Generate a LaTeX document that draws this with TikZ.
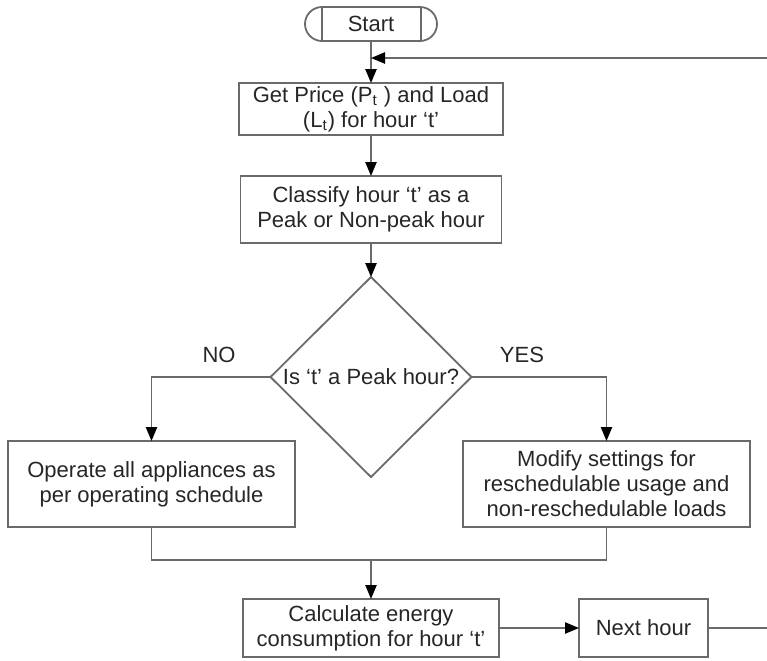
\documentclass[tikz,border=0pt]{standalone}
\usepackage{fontspec}
\setmainfont{Liberation Sans}
\usepackage{xcolor}
\usepackage{tikz}
\usetikzlibrary{positioning, shapes.geometric, shapes.misc, arrows.meta}
\definecolor{linegray}{HTML}{6A6A6A}
\definecolor{textdark}{HTML}{262626}
\tikzset{
    block/.style={
        draw = linegray, line width = 0.9pt,
        align = center, inner sep = 1pt, outer sep = 0pt,
        text = textdark,
        font = \fontsize{11}{12.5}\selectfont
    },
    terminal/.style={
        block, rounded rectangle,
        minimum width = 68pt, minimum height = 17pt
    },
    decision/.style={
        draw = linegray, line width = 0.9pt,
        diamond, aspect = 1, inner sep = 0pt, outer sep = 0pt,
        minimum width = 100.5pt, minimum height = 100pt,
        label = {[text = textdark, font = \fontsize{11}{12.5}\selectfont]center:#1}
    },
    branch/.style = {text = textdark, font = \fontsize{11}{12.5}\selectfont},
    line/.style = {draw = linegray, line width = 0.9pt,
        -{Triangle[length=7pt, width=5.6pt, color=black]}},
    link/.style = {draw = linegray, line width = 0.9pt}
}

\begin{document}
\begin{tikzpicture}[x=1pt, y=1pt]

    \useasboundingbox (0,0) rectangle (383.5,-330);
    \clip (0,0) rectangle (383.5,-330);

    % Start terminal
    \node[terminal] (start) at (185.5,-12) {Start};
    \draw[link] ([xshift=-24.5pt]start.north) -- ([xshift=-24.5pt]start.south)
                ([xshift=25pt]start.north) -- ([xshift=25pt]start.south);

    % Process column
    \node[block, minimum width = 132pt, minimum height = 26pt,
          below = 21pt of start] (price)
        {Get Price (P\textsubscript{t} ) and Load\\(L\textsubscript{t}) for hour ‘t’};
    \node[block, minimum width = 130.5pt, minimum height = 33.5pt,
          below = 20.5pt of price] (classify)
        {Classify hour ‘t’ as a\\Peak or Non-peak hour};

    % Decision
    \node[decision = {Is ‘t’ a Peak hour?}, below = 17pt of classify] (peak) {};
    \node[branch] (no) at (109.5,-177.5) {NO};
    \node[branch] (yes) at (261,-177.5) {YES};

    % Branch boxes
    \node[block, minimum width = 143.5pt, minimum height = 43pt]
        (operate) at (75.75,-242) {Operate all appliances as\\per operating schedule};
    \node[block, minimum width = 143.5pt, minimum height = 43pt]
        (modify) at (303.25,-242)
        {Modify settings for\\reschedulable usage and\\non-reschedulable loads};

    % Bottom row
    \node[block, minimum width = 128pt, minimum height = 29pt,
          below = 61pt of peak] (calc)
        {Calculate energy\\consumption for hour ‘t’};
    \node[block, minimum width = 64.5pt, minimum height = 29pt,
          right = 40pt of calc] (next) {Next hour};

    \coordinate[above = 19.5pt of calc.north] (join);
    \coordinate (loopup) at (392,-29);
    \coordinate (loopdown) at (next.east -| loopup);

    % Lines
    \draw[line] (start.south) -- (price.north);
    \draw[line] (price.south) -- (classify.north);
    \draw[line] (classify.south) -- (peak.north);
    \draw[line] (peak.west) -| (operate.north);
    \draw[line] (peak.east) -| (modify.north);
    \draw[link] (operate.south) |- (join) -| (modify.south);
    \draw[line] (join) -- (calc.north);
    \draw[line] (calc.east) -- (next.west);
    \draw[line] (next.east) -- (loopdown) -- (loopup) -- (loopup -| start.south);

\end{tikzpicture}
\end{document}
